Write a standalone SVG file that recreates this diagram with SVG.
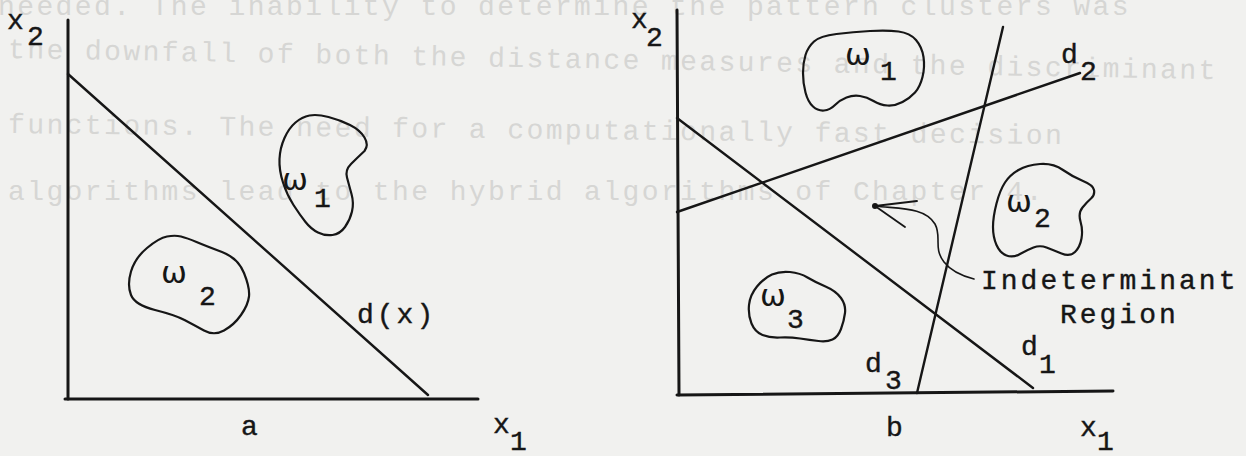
<svg xmlns="http://www.w3.org/2000/svg" width="1246" height="456" viewBox="0 0 1246 456">
<style>
.bg{fill:#f1f1ef}
.ghost{font-family:"Liberation Mono",monospace;font-size:28px;letter-spacing:2.4px;fill:#d6d6d4}
.axis{stroke:#161616;stroke-width:3;fill:none;stroke-linecap:round}
.line{stroke:#161616;stroke-width:2.4;fill:none;stroke-linecap:round}
.blob{stroke:#161616;stroke-width:2.2;fill:none;stroke-linejoin:round}
.t{font-family:"Liberation Mono",monospace;font-size:28px;letter-spacing:3px;fill:#161616;stroke:#161616;stroke-width:0.4}
.w{font-family:"DejaVu Sans",sans-serif;font-size:31px;fill:#161616}
</style>
<rect class="bg" x="0" y="0" width="1246" height="456"/>
<g id="bleed-through">
<text class="ghost" x="-2" y="15">needed. The inability to determine the pattern clusters was</text>
<text class="ghost" x="8" y="58" transform="rotate(1 8 58)">the downfall of both the distance measures and the discriminant</text>
<text class="ghost" x="8" y="133" transform="rotate(0.6 8 133)">functions. The need for a computationally fast decision</text>
<text class="ghost" x="8" y="200">algorithms lead to the hybrid algorithms of Chapter 4.</text>
</g>
<g id="axes-a">
<line class="axis" x1="68" y1="20" x2="68" y2="399"/>
<line class="axis" x1="65" y1="399" x2="478" y2="399"/>
<text class="t" x="7" y="29">x<tspan x="27" y="45">2</tspan></text>
<text class="t" x="493" y="433">x<tspan x="510" y="450">1</tspan></text>
<text class="t" x="241" y="435">a</text>
</g>
<g id="axes-b">
<line class="axis" x1="677" y1="10" x2="679" y2="395"/>
<line class="axis" x1="677" y1="395" x2="1113" y2="391"/>
<text class="t" x="631" y="28">x<tspan x="646" y="46">2</tspan></text>
<text class="t" x="1080" y="436">x<tspan x="1097" y="450">1</tspan></text>
<text class="t" x="886" y="436">b</text>
</g>
<g id="a-omega1">
<path class="blob" d="M309.5,115.5 Q317,114 328.5,117 Q340,120 350,125 Q360,130 364.5,137.5 Q369,145 364.5,151 Q357,158 351,164 Q345,170 347,177.5 Q349,185 351.5,194 Q354,203 352,211.5 Q350,220 345,227 Q340,234 332.5,235 Q325,236 318,232.5 Q311,229 305.5,222 Q300,215 293.5,205 Q287,195 283,182.5 Q279,170 279.5,159 Q280,148 284.5,138 Q289,128 295.5,122.5 Q302,117 309.5,115.5 Z"/>
<text class="w" x="282" y="190">ω</text>
<text class="t" x="314" y="207">1</text>
</g>
<g id="a-omega2">
<path class="blob" d="M167,236.5 Q175,235 181,236.5 Q187,238 196.5,242 Q206,246 222,252 Q238,258 244,273 Q250,288 249,296.5 Q248,305 241,315 Q234,325 224,330.5 Q214,336 204,330.5 Q194,325 184.5,320 Q175,315 155,310 Q135,305 131,295 Q127,285 131,271.5 Q135,258 147,248 Q159,238 167,236.5 Z"/>
<text class="w" x="161" y="283">ω</text>
<text class="t" x="199" y="305">2</text>
</g>
<g id="b-omega1">
<path class="blob" d="M836.5,34 Q853,32 870,31 Q887,30 898.5,31.5 Q910,33 916,40 Q922,47 923.5,57 Q925,67 922.5,77 Q920,87 915,92.5 Q910,98 902.5,102 Q895,106 887.5,105.5 Q880,105 873.5,101 Q867,97 860,96 Q853,95 846.5,97.5 Q840,100 835,105 Q830,110 824,110.5 Q818,111 813,106.5 Q808,102 805.5,92.5 Q803,83 803,73 Q803,63 805.5,55 Q808,47 814,41.5 Q820,36 836.5,34 Z"/>
<text class="w" x="845" y="65">ω</text>
<text class="t" x="880" y="80">1</text>
</g>
<g id="b-omega2">
<path class="blob" d="M1040,164 Q1053,163 1063,170 Q1073,177 1083,181 Q1093,185 1094,190 Q1095,195 1091,198.5 Q1087,202 1082.5,207.5 Q1078,213 1080.5,221.5 Q1083,230 1081.5,238.5 Q1080,247 1075,252 Q1070,257 1061.5,253.5 Q1053,250 1046.5,247.5 Q1040,245 1033.5,247.5 Q1027,250 1020,254 Q1013,258 1006.5,255.5 Q1000,253 996.5,245 Q993,237 993,227 Q993,217 996.5,203.5 Q1000,190 1005,182.5 Q1010,175 1018.5,170 Q1027,165 1040,164 Z"/>
<text class="w" x="1006" y="212">ω</text>
<text class="t" x="1034" y="227">2</text>
</g>
<g id="b-omega3">
<path class="blob" d="M772,274.5 Q780,271 790,272 Q800,273 807.5,277.5 Q815,282 825.5,286.5 Q836,291 841,298 Q846,305 845,313 Q844,321 841,329 Q838,337 832.5,339.5 Q827,342 818.5,341 Q810,340 800,338.5 Q790,337 780,337.5 Q770,338 762.5,335 Q755,332 751.5,323.5 Q748,315 749,305 Q750,295 757,286.5 Q764,278 772,274.5 Z"/>
<text class="w" x="760" y="306">ω</text>
<text class="t" x="787" y="328">3</text>
</g>
<g id="indeterminant-label">
<text class="t" x="981" y="289">Indeterminant</text>
<text class="t" x="1060" y="323">Region</text>
</g>
<g id="connectors">
<line class="line" x1="68" y1="74" x2="428" y2="395"/>
<text class="t" x="357" y="323">d(x)</text>
<line class="line" x1="677" y1="118" x2="1033" y2="388"/>
<line class="line" x1="677" y1="212" x2="1080" y2="73"/>
<line class="line" x1="917" y1="393" x2="1003" y2="27"/>
<text class="t" x="1061" y="63">d<tspan x="1080" y="80">2</tspan></text>
<text class="t" x="1021" y="355">d<tspan x="1039" y="373">1</tspan></text>
<text class="t" x="865" y="372">d<tspan x="885" y="389">3</tspan></text>
<circle cx="875" cy="206" r="3" fill="#161616"/>
<line x1="875" y1="206" x2="917" y2="201" stroke="#161616" stroke-width="1.8" stroke-linecap="round"/>
<line x1="875" y1="206" x2="905" y2="227" stroke="#161616" stroke-width="1.8" stroke-linecap="round"/>
<path d="M875,206 C900,209 925,207 935,224 C942,237 933,248 944,262 C951,271 962,276 974,279" fill="none" stroke="#161616" stroke-width="1.6" stroke-linecap="round"/>
</g>
</svg>
